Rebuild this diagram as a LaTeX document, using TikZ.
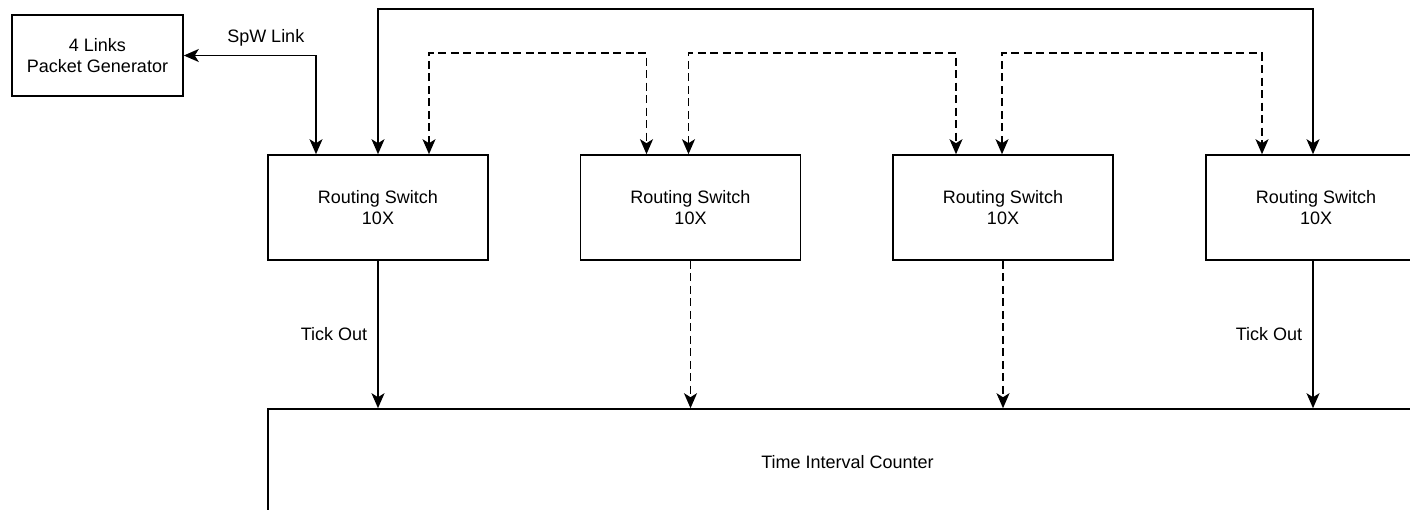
\documentclass[tikz,border=0pt]{standalone}
\usepackage{fontspec}
\setmainfont{Liberation Sans}
\usetikzlibrary{arrows.meta}

\begin{document}
\begin{tikzpicture}[x=1pt, y=-1pt, >={Stealth[length=15pt, width=13pt, inset=4pt]},
	every node/.style={font=\fontsize{18}{21}\selectfont, align=center},
	box/.style={draw, line width=1.6pt, inner sep=0pt},
	switchbox/.style={box, minimum width=220pt, minimum height=105pt},
	link/.style={line width=1.6pt},
	dlink/.style={line width=1.6pt, dash pattern=on 8pt off 4.5pt}]
	\useasboundingbox (0,0) rectangle (1410,509);
	\clip (0,0) rectangle (1410,509);
	\node[box, minimum width=171pt, minimum height=81pt] (gen) at (97.5,55.5) {4 Links\\Packet Generator};
	\foreach \i/\x in {1/378,2/690.5,3/1003,4/1316}
		\node[switchbox] (sw\i) at (\x,207.5) {Routing Switch\\10X};
	\node[box, minimum width=1159pt, minimum height=106pt] (tic) at (847.5,462) {Time Interval Counter};
	% links on top
	\draw[link, <->] (gen.east) -| node[pos=0.31, above=8pt, inner sep=0pt] {SpW Link} ([xshift=-62pt]sw1.north);
	\draw[link, <->] (sw1.north) -- ++(0,-145) -| ([xshift=-3pt]sw4.north);
	\draw[dlink, <->] ([xshift=51pt]sw1.north) -- ++(0,-101) -| ([xshift=-44pt]sw2.north);
	\draw[dlink, <->] ([xshift=-2pt]sw2.north) -- ++(0,-101) -| ([xshift=-47pt]sw3.north);
	\draw[dlink, <->] ([xshift=-1pt]sw3.north) -- ++(0,-101) -| ([xshift=-54pt]sw4.north);
	% ticks down to the counter
	\draw[link, ->] (sw1.south) -- node[left=10pt, inner sep=0pt] {Tick Out} (sw1.south |- tic.north);
	\draw[dlink, ->] (sw2.south) -- (sw2.south |- tic.north);
	\draw[dlink, ->] (sw3.south) -- (sw3.south |- tic.north);
	\draw[link, ->] ([xshift=-3pt]sw4.south) -- node[left=10pt, inner sep=0pt] {Tick Out} ([xshift=-3pt]sw4.south |- tic.north);
\end{tikzpicture}
\end{document}
